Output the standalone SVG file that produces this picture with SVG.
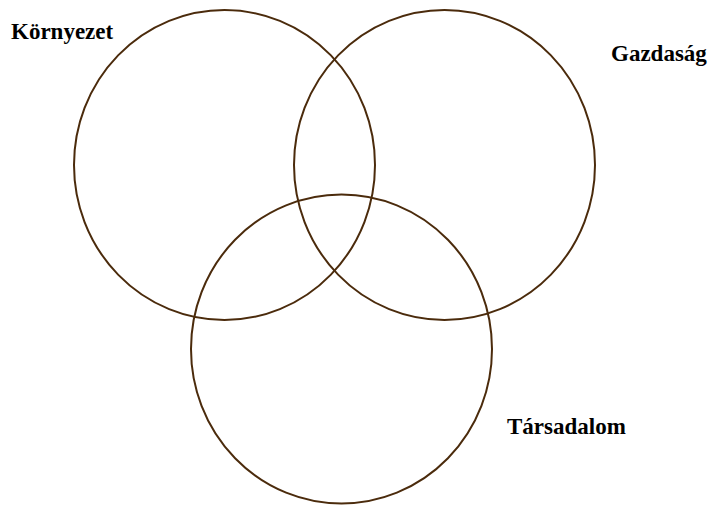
<svg xmlns="http://www.w3.org/2000/svg" width="714" height="506" viewBox="0 0 714 506">
<style>
.c{fill:none;stroke:#4b2b0c;stroke-width:2}
.t{font-family:'Liberation Serif','Times New Roman',Times,serif;font-weight:700;font-size:23px;fill:#000}
</style>
<rect width="714" height="506" fill="#fff"/>
<g id="kornyezet">
<ellipse class="c" cx="224.5" cy="165" rx="150.5" ry="155"/>
<text class="t" x="11" y="39" font-family="Liberation Serif, serif">Környezet</text>
</g>
<g id="gazdasag">
<ellipse class="c" cx="444.5" cy="165" rx="150.5" ry="155"/>
<text class="t" x="611" y="61" font-family="Liberation Serif, serif">Gazdaság</text>
</g>
<g id="tarsadalom">
<ellipse class="c" cx="341.5" cy="349" rx="150.5" ry="154.5"/>
<text class="t" x="507" y="434" font-family="Liberation Serif, serif">Társadalom</text>
</g>
<g id="connectors"></g>
</svg>
